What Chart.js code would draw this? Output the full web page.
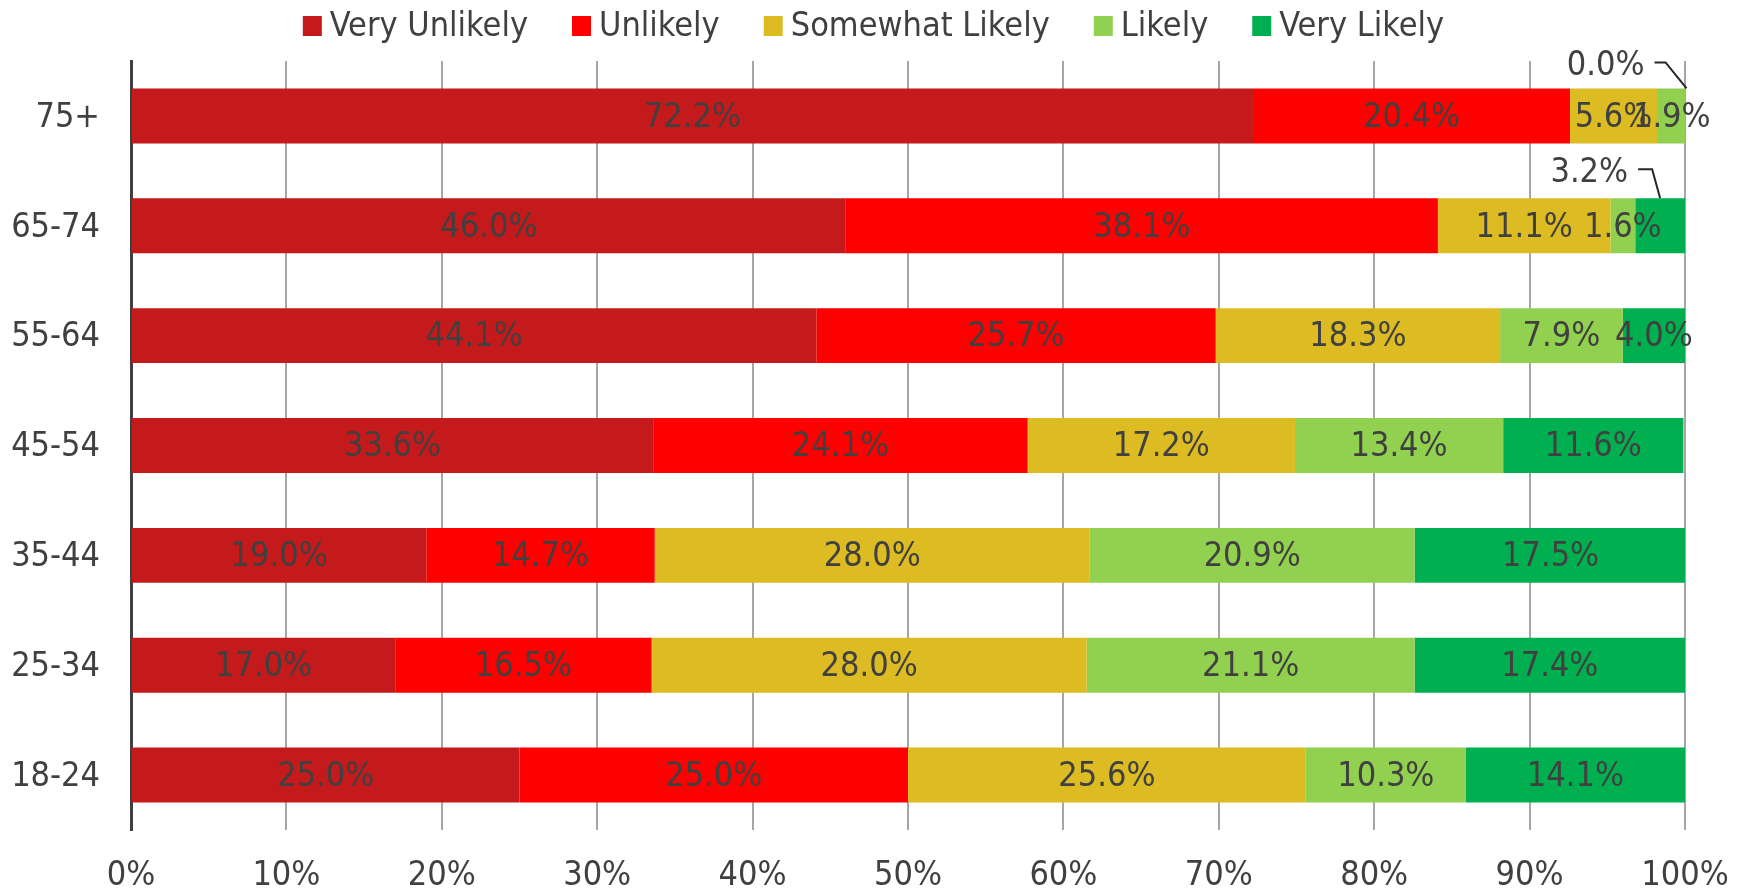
<!DOCTYPE html>
<html>
<head>
<meta charset="utf-8">
<script src="https://cdn.jsdelivr.net/npm/chart.js@4.4.1/dist/chart.umd.min.js"></script>
<style>
  html, body { margin: 0; padding: 0; background: #fff; }
  #wrap { width: 1747px; height: 890px; }
</style>
</head>
<body>
<div id="wrap"><canvas id="c" width="1747" height="890"></canvas></div>
<script>
/* Likelihood by age group — 100% stacked horizontal bars. */

const ageGroups = ["75+", "65-74", "55-64", "45-54", "35-44", "25-34", "18-24"];
const seriesNames = ["Very Unlikely", "Unlikely", "Somewhat Likely", "Likely", "Very Likely"];
const seriesColors = ["#C41A1B", "#FF0000", "#DCBC22", "#92D050", "#00B050"];

const veryUnlikely   = [72.2, 46.0, 44.1, 33.6, 19.0, 17.0, 25.0];
const unlikely       = [20.4, 38.1, 25.7, 24.1, 14.7, 16.5, 25.0];
const somewhatLikely = [5.6, 11.1, 18.3, 17.2, 28.0, 28.0, 25.6];
const likely         = [1.9, 1.6, 7.9, 13.4, 20.9, 21.1, 10.3];
const veryLikely     = [0.0, 3.2, 4.0, 11.6, 17.5, 17.4, 14.1];

const xTicks = [0, 10, 20, 30, 40, 50, 60, 70, 80, 90, 100];

// labels pulled out above the bar with a leader line: [dataset, row]
const callouts = [
  { ds: 4, row: 0, tx: -42, ty: -24, kx: -21 },
  { ds: 4, row: 1, tx: -32, ty: -27, kx: -8 },
];

const FONT = '"DejaVu Sans Condensed", "DejaVu Sans", sans-serif';
const FSIZE = 34;
const TEXT = "#404040";

Chart.defaults.font.family = FONT;
Chart.defaults.font.size = FSIZE;
Chart.defaults.color = TEXT;

const valueLabels = {
  id: "valueLabels",
  afterDatasetsDraw(chart) {
    const ctx = chart.ctx;
    ctx.save();
    ctx.font = FSIZE + "px " + FONT;
    ctx.fillStyle = TEXT;
    ctx.textBaseline = "middle";
    chart.data.datasets.forEach((ds, di) => {
      const meta = chart.getDatasetMeta(di);
      meta.data.forEach((bar, i) => {
        const v = ds.data[i];
        const txt = v.toFixed(1) + "%";
        const co = callouts.find((c) => c.ds === di && c.row === i);
        if (co) {
          const ex = (bar.x + bar.base) / 2;
          const ey = bar.y - bar.height / 2;
          const tr = ex + co.tx, ty = ey + co.ty;
          ctx.textAlign = "right";
          ctx.fillText(txt, tr, ty + 2);
          ctx.strokeStyle = "#262626";
          ctx.lineWidth = 2;
          ctx.beginPath();
          ctx.moveTo(tr + 10, ty - 2);
          ctx.lineTo(ex + co.kx, ty - 2);
          ctx.lineTo(ex, ey);
          ctx.stroke();
          return;
        }
        ctx.textAlign = "center";
        ctx.fillText(txt, (bar.x + bar.base) / 2, bar.y + 2);
      });
    });
    ctx.restore();
  },
};

const topLegend = {
  id: "topLegend",
  afterDraw(chart) {
    const ctx = chart.ctx;
    ctx.save();
    ctx.font = FSIZE + "px " + FONT;
    ctx.textBaseline = "middle";
    ctx.textAlign = "left";
    const items = chart.data.datasets.map((d) => ({
      text: d.label, color: d.backgroundColor, w: ctx.measureText(d.label).width,
    }));
    const gap = 44, lead = 27;
    const total = items.reduce((s, it) => s + lead + it.w, 0) + gap * (items.length - 1);
    let x = (chart.width - total) / 2;
    items.forEach((it) => {
      ctx.fillStyle = it.color;
      ctx.fillRect(x, 16, 19, 20);
      ctx.fillStyle = TEXT;
      ctx.fillText(it.text, x + lead, 27);
      x += lead + it.w + gap;
    });
    ctx.restore();
  },
};

const seriesData = [veryUnlikely, unlikely, somewhatLikely, likely, veryLikely];

new Chart(document.getElementById("c").getContext("2d"), {
  type: "bar",
  data: {
    labels: ageGroups,
    datasets: seriesNames.map((name, i) => ({
      label: name,
      data: seriesData[i],
      backgroundColor: seriesColors[i],
      borderWidth: 0,
      categoryPercentage: 0.5,
      barPercentage: 1.0,
    })),
  },
  options: {
    indexAxis: "y",
    animation: false,
    responsive: false,
    devicePixelRatio: 1,
    layout: { padding: { top: 61, right: 62, bottom: 0, left: 0 } },
    plugins: { legend: { display: false }, tooltip: { enabled: false } },
    scales: {
      x: {
        stacked: true,
        min: 0,
        max: 100,
        afterBuildTicks(scale) { scale.ticks = xTicks.map((v) => ({ value: v })); },
        afterFit(scale) {
          scale.height = 60;
          scale.paddingLeft = 0;
          scale.paddingRight = 0;
        },
        ticks: { padding: 26, color: TEXT, callback: (v) => v + "%" },
        grid: { color: "#A6A6A6", lineWidth: 2, drawTicks: false },
        border: { display: false },
      },
      y: {
        stacked: true,
        afterFit(scale) { scale.width = 131; },
        ticks: { padding: 31, color: TEXT, labelOffset: 2 },
        grid: { display: false, drawTicks: false },
        border: { display: true, color: "#404040", width: 3 },
      },
    },
  },
  plugins: [valueLabels, topLegend],
});
</script>
</body>
</html>
